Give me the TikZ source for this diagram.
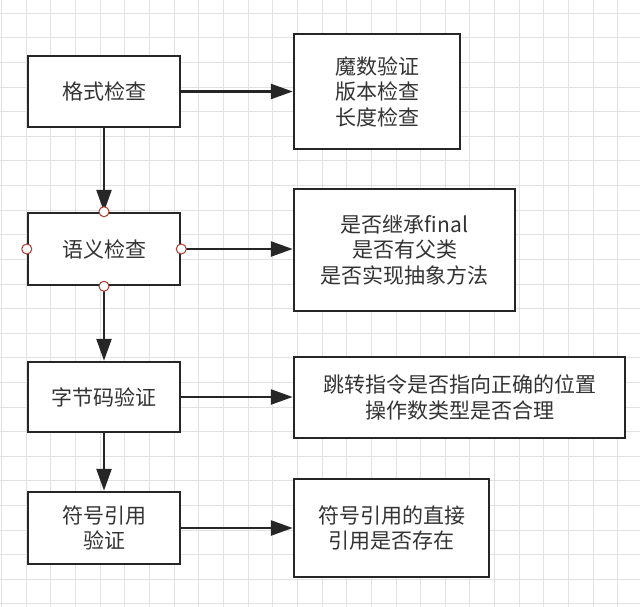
\documentclass[tikz,border=0pt]{standalone}
\usepackage{fontspec}
\newfontfamily\cjk{Noto Sans CJK SC}
\usepackage{tikz}
\usetikzlibrary{arrows.meta,positioning}
\definecolor{gridgray}{HTML}{E2E2E2}
\definecolor{inkgray}{HTML}{262626}
\definecolor{textgray}{HTML}{333333}
\definecolor{handlered}{HTML}{B03A2E}
\tikzstyle{stage} = [draw=inkgray, line width=2.5pt, fill=white, text=textgray, inner sep=0pt, align=center, minimum width=152pt, font=\cjk\fontsize{21}{25.5}\selectfont]
\tikzstyle{detail} = [stage]
\tikzstyle{flow} = [draw=inkgray, line width=2.5pt, -{Triangle[length=22pt,width=15pt]}]
\tikzstyle{handle} = [circle, draw=handlered, line width=1pt, fill=white, inner sep=0pt, minimum size=10pt]

\begin{document}
\begin{tikzpicture}[x=1pt,y=-1pt]
\useasboundingbox (0,0) rectangle (640,607);
\fill[white] (0,0) rectangle (640,607);
\begin{scope}
\clip (0,0) rectangle (640,607);
\foreach \i in {0,...,26}
  \draw[gridgray, line width=0.8pt] (1.5+24.65*\i,0) -- (1.5+24.65*\i,607);
\foreach \j in {-1,...,24}
  \draw[gridgray, line width=0.8pt] (0,13.3+24.6*\j) -- (640,13.3+24.6*\j);
\end{scope}

\node[stage, minimum height=71pt] (format) at (104,91.5) {格式检查};
\node[stage, minimum height=72pt] (semantic) at (104,249) {语义检查};
\node[stage, minimum height=70pt] (bytecode) at (104,397) {字节码验证};
\node[stage, minimum height=72pt] (symref) at (104,528) {符号引用\\验证};

\node[detail, minimum width=166pt, minimum height=115pt] (formatd) at (377,91.5) {魔数验证\\版本检查\\长度检查};
\node[detail, minimum width=221pt, minimum height=122pt] (semanticd) at (404.5,250) {是否继承final\\是否有父类\\是否实现抽象方法};
\node[detail, minimum width=331pt, minimum height=81pt] (bytecoded) at (459.5,397.5) {跳转指令是否指向正确的位置\\操作数类型是否合理};
\node[detail, minimum width=195pt, minimum height=98pt] (symrefd) at (391.5,528) {符号引用的直接\\引用是否存在};

\draw[flow] (format.east) -- (format.east -| formatd.west);
\draw[flow] (semantic.east) -- (semantic.east -| semanticd.west);
\draw[flow] (bytecode.east) -- (bytecode.east -| bytecoded.west);
\draw[flow] (symref.east) -- (symref.east -| symrefd.west);

\draw[flow] (format.south) -- (semantic.north);
\draw[flow] (semantic.south) -- (bytecode.north);
\draw[flow] (bytecode.south) -- (symref.north);

\node[handle] (hn) at (semantic.north) {};
\node[handle] (hs) at (semantic.south) {};
\node[handle] (hw) at (semantic.west) {};
\node[handle] (he) at (semantic.east) {};
\end{tikzpicture}
\end{document}
